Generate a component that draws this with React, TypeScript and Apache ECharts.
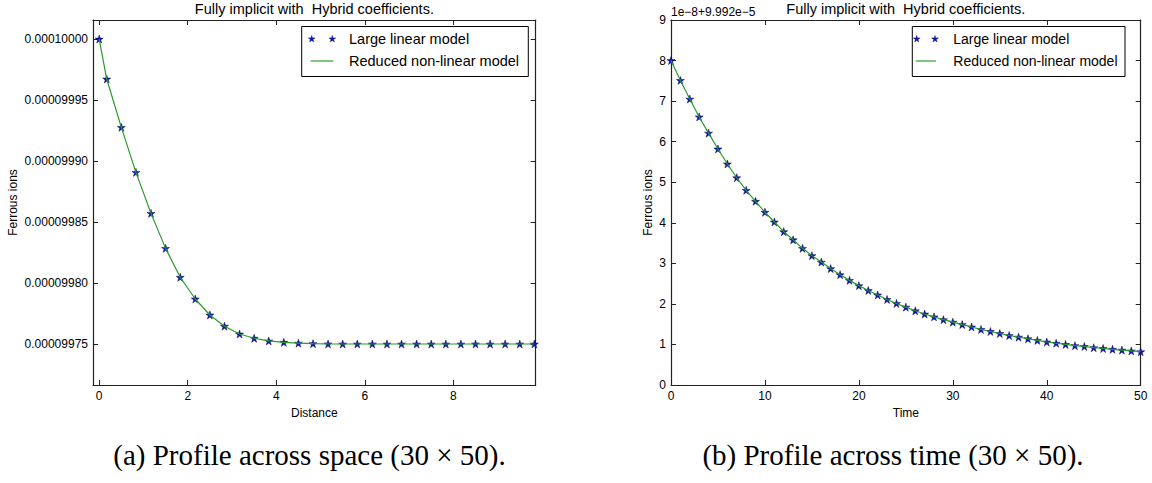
import React, { useEffect, useRef } from "react";
import * as echarts from "echarts";

// ---------- data ----------
const titleText = "Fully implicit with  Hybrid coefficients.";
const seriesNames = ["Large linear model", "Reduced non-linear model"];

// (a) profile across space
const spaceDistance = [
  0, 0.17, 0.5, 0.83, 1.17, 1.5, 1.83, 2.17, 2.5, 2.83, 3.17, 3.5, 3.83, 4.17, 4.5,
  4.83, 5.17, 5.5, 5.83, 6.17, 6.5, 6.83, 7.17, 7.5, 7.83, 8.17, 8.5, 8.83, 9.17, 9.5, 9.83,
];
const spaceIons = [
  0.0001, 0.0000999672, 0.0000999276, 0.0000998907, 0.0000998571, 0.0000998284,
  0.0000998047, 0.0000997869, 0.0000997738, 0.0000997646, 0.0000997582, 0.0000997547,
  0.0000997525, 0.0000997514, 0.0000997507, 0.0000997503, 0.0000997501, 0.00009975,
  0.00009975, 0.00009975, 0.00009975, 0.00009975, 0.00009975, 0.00009975, 0.00009975,
  0.00009975, 0.00009975, 0.00009975, 0.00009975, 0.00009975, 0.00009975,
];
const spaceYTicks = [0.00009975, 0.0000998, 0.00009985, 0.0000999, 0.00009995, 0.0001];
const spaceXTicks = [0, 2, 4, 6, 8];

// (b) profile across time: values shown as 1e-8 * v + 9.992e-5
const timeSteps = [
  0, 1, 2, 3, 4, 5, 6, 7, 8, 9, 10, 11, 12, 13, 14, 15, 16, 17, 18, 19, 20, 21, 22, 23, 24,
  25, 26, 27, 28, 29, 30, 31, 32, 33, 34, 35, 36, 37, 38, 39, 40, 41, 42, 43, 44, 45, 46, 47,
  48, 49, 50,
];
const timeIonsOffset = [
  8.0, 7.51, 7.05, 6.61, 6.21, 5.82, 5.45, 5.11, 4.8, 4.53, 4.26, 4.02, 3.78, 3.58, 3.37,
  3.19, 3.03, 2.87, 2.72, 2.58, 2.45, 2.33, 2.22, 2.11, 2.01, 1.92, 1.83, 1.75, 1.68, 1.61,
  1.55, 1.49, 1.43, 1.37, 1.32, 1.27, 1.22, 1.18, 1.14, 1.1, 1.06, 1.03, 1.0, 0.97, 0.95,
  0.92, 0.9, 0.88, 0.86, 0.84, 0.82,
];
const timeOffsetText = "1e\u22128+9.992e\u22125";
const captions = [
  "(a) Profile across space (30 \u00d7 50).",
  "(b) Profile across time (30 \u00d7 50).",
];

// ---------- styling ----------
const SANS = '"Liberation Sans", Arial, sans-serif';
const AXIS_COLOR = "#222";
const GREEN = "#2a9a2a";
const STAR_FILL = "#0a14c8";
const STAR_EDGE = "#0a0a40";
const STAR_PATH =
  "path://M0,-1 L0.2245,-0.309 L0.951,-0.309 L0.363,0.118 L0.588,0.809 L0,0.382 L-0.588,0.809 L-0.363,0.118 L-0.951,-0.309 L-0.2245,-0.309 Z";

function starPoints(cx: number, cy: number, r: number) {
  const pts: number[][] = [];
  for (let i = 0; i < 10; i++) {
    const a = -Math.PI / 2 + (i * Math.PI) / 5;
    const rr = i % 2 === 0 ? r : r * 0.382;
    pts.push([cx + rr * Math.cos(a), cy + rr * Math.sin(a)]);
  }
  return pts;
}

function legendGraphic(
  x0: number,
  y0: number,
  w: number,
  h: number,
  s1: number,
  s2: number,
  textX: number,
  fontSize: number
) {
  const r1 = y0 + 12.5;
  const r2 = y0 + 34.5;
  return [
    {
      type: "rect",
      shape: { x: x0, y: y0, width: w, height: h },
      style: { fill: "#fff", stroke: "#000", lineWidth: 1 },
      z: 50,
    },
    {
      type: "polygon",
      shape: { points: starPoints(s1, r1, 3.6) },
      style: { fill: STAR_FILL, stroke: STAR_EDGE, lineWidth: 0.4 },
      z: 51,
    },
    {
      type: "polygon",
      shape: { points: starPoints(s2, r1, 3.6) },
      style: { fill: STAR_FILL, stroke: STAR_EDGE, lineWidth: 0.4 },
      z: 51,
    },
    {
      type: "line",
      shape: { x1: s1 - 1, y1: r2, x2: s2 + 1, y2: r2 },
      style: { stroke: "#5fb85f", lineWidth: 1.6 },
      z: 51,
    },
    {
      type: "text",
      x: textX,
      y: r1,
      style: {
        text: seriesNames[0],
        fill: "#000",
        fontSize,
        fontFamily: SANS,
        align: "left",
        verticalAlign: "middle",
      },
      z: 52,
    },
    {
      type: "text",
      x: textX,
      y: r2,
      style: {
        text: seriesNames[1],
        fill: "#000",
        fontSize,
        fontFamily: SANS,
        align: "left",
        verticalAlign: "middle",
      },
      z: 52,
    },
  ];
}

const axisLine = { show: true, onZero: false, lineStyle: { color: AXIS_COLOR, width: 1.2 } };
const tickInside = { show: true, inside: true, length: 5, lineStyle: { color: AXIS_COLOR, width: 1 } };
const labelStyle = { color: "#000", fontSize: 12, fontFamily: SANS };

export default function App() {
  const ref = useRef<HTMLDivElement>(null);

  useEffect(() => {
    if (!ref.current) return;
    const chart = echarts.init(ref.current, undefined, { renderer: "svg" });

    const spaceData = spaceDistance.map((d, i) => [d, spaceIons[i]]);
    const timeData = timeSteps.map((t, i) => [t, timeIonsOffset[i]]);

    const sxMin = -0.14;
    const sxMax = 9.86;
    const syMin = 0.0000997164;
    const syMax = 0.0001000156;

    const option: any = {
      animation: false,
      backgroundColor: "#fff",
      grid: [
        { left: 93, top: 20, width: 442.7, height: 365 },
        { left: 671, top: 20, width: 469.7, height: 365 },
      ],
      xAxis: [
        {
          type: "value",
          gridIndex: 0,
          position: "bottom",
          min: sxMin,
          max: sxMax,
          axisLine,
          axisTick: { ...tickInside, customValues: spaceXTicks },
          axisLabel: {
            ...labelStyle,
            margin: 5,
            customValues: spaceXTicks,
            formatter: (v: number) => String(Math.round(v)),
          },
          splitLine: { show: false },
          name: "Distance",
          nameLocation: "middle",
          nameGap: 20,
          nameTextStyle: labelStyle,
        },
        {
          type: "value",
          gridIndex: 0,
          position: "top",
          min: sxMin,
          max: sxMax,
          axisLine,
          axisTick: { ...tickInside, customValues: spaceXTicks },
          axisLabel: { show: false, customValues: spaceXTicks },
          splitLine: { show: false },
        },
        {
          type: "value",
          gridIndex: 1,
          position: "bottom",
          min: 0,
          max: 50,
          interval: 10,
          axisLine,
          axisTick: tickInside,
          axisLabel: { ...labelStyle, margin: 5 },
          splitLine: { show: false },
          name: "Time",
          nameLocation: "middle",
          nameGap: 20,
          nameTextStyle: labelStyle,
        },
        {
          type: "value",
          gridIndex: 1,
          position: "top",
          min: 0,
          max: 50,
          interval: 10,
          axisLine,
          axisTick: tickInside,
          axisLabel: { show: false },
          splitLine: { show: false },
        },
      ],
      yAxis: [
        {
          type: "value",
          gridIndex: 0,
          position: "left",
          min: syMin,
          max: syMax,
          axisLine,
          axisTick: { ...tickInside, customValues: spaceYTicks },
          axisLabel: {
            ...labelStyle,
            margin: 5,
            customValues: spaceYTicks,
            formatter: (v: number) => v.toFixed(8),
          },
          splitLine: { show: false },
          name: "Ferrous ions",
          nameLocation: "middle",
          nameRotate: 90,
          nameGap: 74,
          nameTextStyle: labelStyle,
        },
        {
          type: "value",
          gridIndex: 0,
          position: "right",
          min: syMin,
          max: syMax,
          axisLine,
          axisTick: { ...tickInside, customValues: spaceYTicks },
          axisLabel: { show: false, customValues: spaceYTicks },
          splitLine: { show: false },
        },
        {
          type: "value",
          gridIndex: 1,
          position: "left",
          min: 0,
          max: 9,
          interval: 1,
          axisLine,
          axisTick: tickInside,
          axisLabel: { ...labelStyle, margin: 5 },
          splitLine: { show: false },
          name: "Ferrous ions",
          nameLocation: "middle",
          nameRotate: 90,
          nameGap: 17,
          nameTextStyle: labelStyle,
        },
        {
          type: "value",
          gridIndex: 1,
          position: "right",
          min: 0,
          max: 9,
          interval: 1,
          axisLine,
          axisTick: tickInside,
          axisLabel: { show: false },
          splitLine: { show: false },
        },
      ],
      series: [
        {
          name: seriesNames[0],
          type: "scatter",
          xAxisIndex: 0,
          yAxisIndex: 0,
          data: spaceData,
          symbol: STAR_PATH,
          symbolSize: 8,
          itemStyle: { color: STAR_FILL, borderColor: STAR_EDGE, borderWidth: 0.5, opacity: 1 },
          z: 2,
        },
        {
          name: seriesNames[1],
          type: "line",
          xAxisIndex: 0,
          yAxisIndex: 0,
          data: spaceData,
          symbol: "none",
          lineStyle: { color: GREEN, width: 1.2 },
          z: 3,
        },
        {
          name: seriesNames[0],
          type: "scatter",
          xAxisIndex: 2,
          yAxisIndex: 2,
          data: timeData,
          symbol: STAR_PATH,
          symbolSize: 8,
          itemStyle: { color: STAR_FILL, borderColor: STAR_EDGE, borderWidth: 0.5, opacity: 1 },
          z: 2,
        },
        {
          name: seriesNames[1],
          type: "line",
          xAxisIndex: 2,
          yAxisIndex: 2,
          data: timeData,
          symbol: "none",
          lineStyle: { color: GREEN, width: 1.2 },
          z: 3,
        },
      ],
      graphic: [
        {
          type: "text",
          x: 314.4,
          y: 9,
          style: {
            text: titleText,
            fill: "#000",
            fontSize: 14.5,
            fontFamily: SANS,
            align: "center",
            verticalAlign: "middle",
          },
        },
        {
          type: "text",
          x: 905.8,
          y: 9,
          style: {
            text: titleText,
            fill: "#000",
            fontSize: 14.5,
            fontFamily: SANS,
            align: "center",
            verticalAlign: "middle",
          },
        },
        {
          type: "text",
          x: 671,
          y: 12,
          style: {
            text: timeOffsetText,
            fill: "#000",
            fontSize: 12,
            fontFamily: SANS,
            align: "left",
            verticalAlign: "middle",
          },
        },
        ...legendGraphic(301.7, 26.5, 226.6, 50, 311.7, 332.3, 349, 14.5),
        ...legendGraphic(912.3, 26.5, 212.7, 50, 916.7, 935, 953.3, 14),
        {
          type: "text",
          x: 309.5,
          y: 455,
          style: {
            text: captions[0],
            fill: "#000",
            fontSize: 29,
            fontFamily: '"Liberation Serif", "Times New Roman", serif',
            align: "center",
            verticalAlign: "middle",
          },
        },
        {
          type: "text",
          x: 893,
          y: 455,
          style: {
            text: captions[1],
            fill: "#000",
            fontSize: 29,
            fontFamily: '"Liberation Serif", "Times New Roman", serif',
            align: "center",
            verticalAlign: "middle",
          },
        },
      ],
    };

    chart.setOption(option);
    return () => chart.dispose();
  }, []);

  return (
    <div
      ref={ref}
      style={{ position: "absolute", left: 0, top: 0, width: 1152, height: 483, background: "#fff" }}
    />
  );
}
